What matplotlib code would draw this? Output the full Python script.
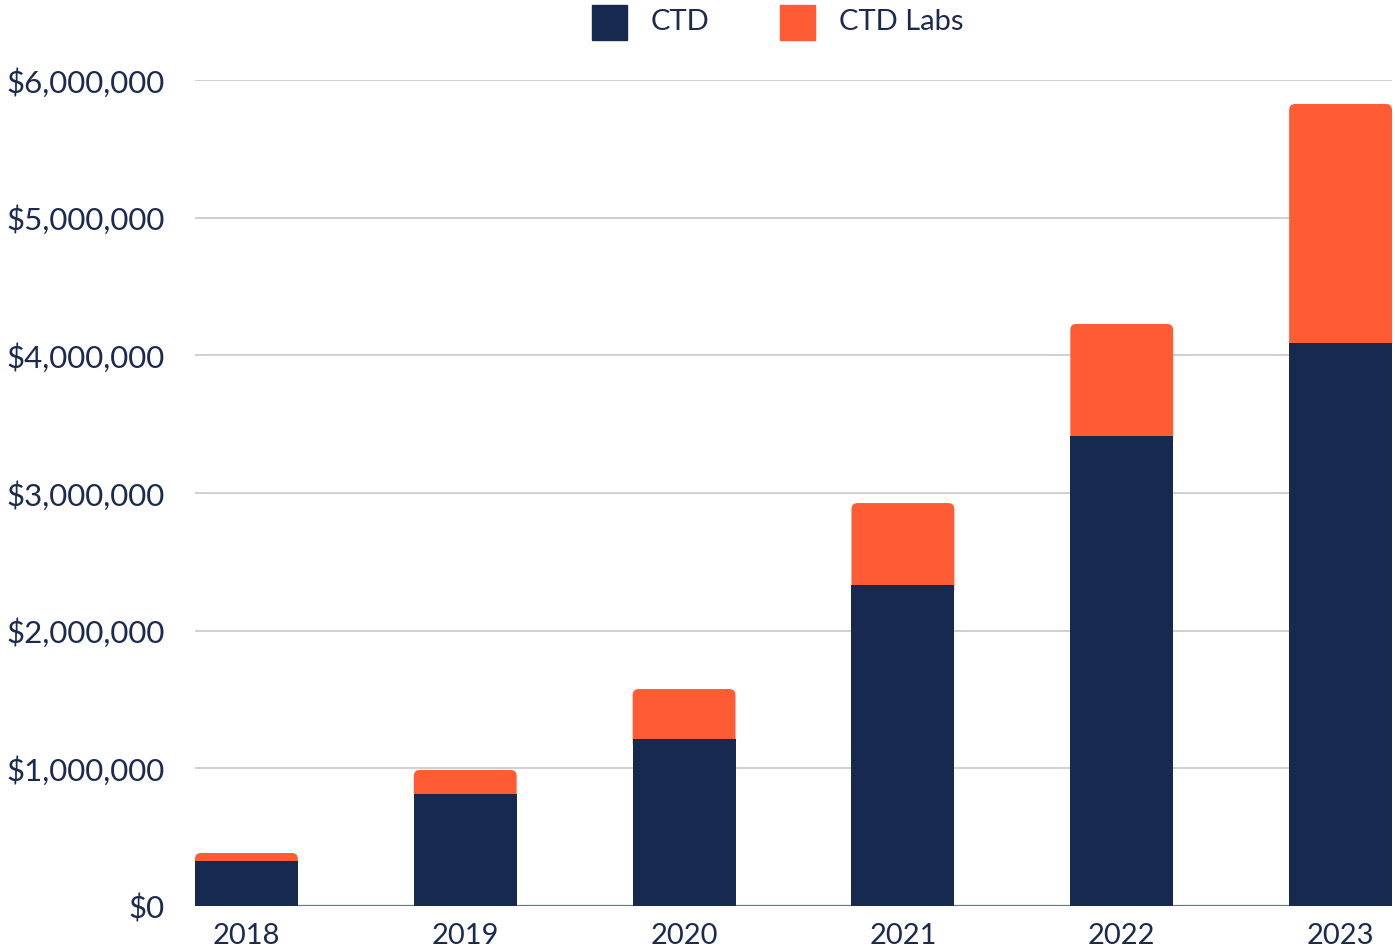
import numpy as np
import matplotlib.pyplot as plt
from matplotlib.patches import FancyBboxPatch
from matplotlib.ticker import FuncFormatter

years = ['2018', '2019', '2020', '2021', '2022', '2023']
ctd = [327000, 814000, 1213000, 2332000, 3414000, 4089000]
ctd_labs = [58000, 174000, 363000, 595000, 814000, 1737000]

NAVY = '#16294E'
ORANGE = '#FF5C35'
TEXT = '#1B2A4E'

plt.rcParams['font.family'] = ['Lato', 'DejaVu Sans']
plt.rcParams['font.weight'] = 'normal'

fig = plt.figure(figsize=(13.95, 9.51), dpi=100)
ax = fig.add_axes([195 / 1395, 1 - 906 / 951, 1197 / 1395, (906 - 80) / 951])

x = np.arange(len(years))
width = 0.47
ymax = 6e6
ax.set_xlim(-width / 2, len(years) - 1 + width / 2)
ax.set_ylim(0, ymax)

# pixel -> data scale for rounded corners
ax_w_px = 1197
ax_h_px = 906 - 80
xpp = (len(years) - 1 + width) / ax_w_px
ypp = ymax / ax_h_px
r = 6 * xpp

for xi, base, top in zip(x, ctd, ctd_labs):
    # orange segment with rounded corners, its lower corners tucked under the navy bar
    start = base - 10 * ypp
    p = FancyBboxPatch((xi - width / 2, start), width, base + top - start,
                       boxstyle=f'round,pad=0,rounding_size={r}',
                       mutation_aspect=ypp / xpp,
                       facecolor=ORANGE, edgecolor='none', zorder=3)
    ax.add_patch(p)
ax.bar(x, ctd, width=width, color=NAVY, zorder=4)

for v in np.arange(1e6, ymax + 1, 1e6):
    ax.axhline(v, color='#CACAD4', lw=1.3, zorder=1)
ax.axhline(0, color='#6B7590', lw=1.6, zorder=2)

for s in ax.spines.values():
    s.set_visible(False)

ax.set_yticks(np.arange(0, ymax + 1, 1e6))
ax.yaxis.set_major_formatter(FuncFormatter(lambda v, p: f'${v:,.0f}'))
ax.set_xticks(x)
ax.set_xticklabels(years)
ax.tick_params(axis='both', length=0, colors=TEXT)
ax.tick_params(axis='y', pad=22, labelsize=22.5)
ax.tick_params(axis='x', pad=12, labelsize=21)

# legend
fig.patches.append(plt.Rectangle((592 / 1395, 1 - 40 / 951), 35 / 1395, 35 / 951,
                                 transform=fig.transFigure, color=NAVY))
fig.text(651 / 1395, 1 - 22 / 951, 'CTD', fontsize=21, color=TEXT, va='center')
fig.patches.append(plt.Rectangle((780 / 1395, 1 - 40 / 951), 35 / 1395, 35 / 951,
                                 transform=fig.transFigure, color=ORANGE))
fig.text(839 / 1395, 1 - 22 / 951, 'CTD Labs', fontsize=21, color=TEXT, va='center')

fig.savefig('out.png', dpi=100)
